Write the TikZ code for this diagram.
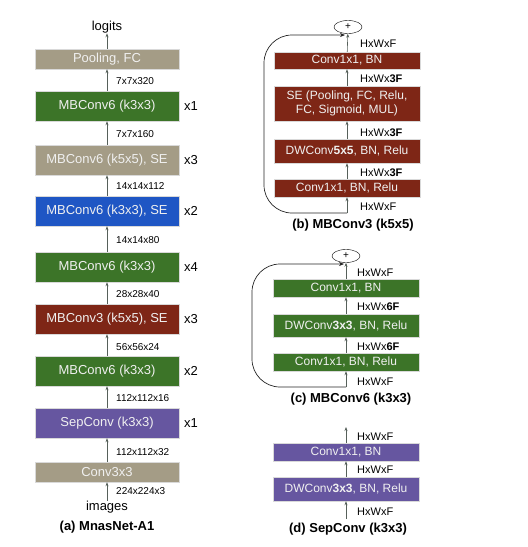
\documentclass[tikz,border=0pt]{standalone}
\usepackage{fontspec}
\setmainfont{Liberation Sans}
\usetikzlibrary{arrows.meta,shapes.geometric}
\definecolor{mbgreen}{HTML}{3C7428}
\definecolor{mbred}{HTML}{7E2616}
\definecolor{mbblue}{HTML}{1F56C4}
\definecolor{mbpurple}{HTML}{6656A0}
\definecolor{mbtan}{HTML}{A49C86}
\definecolor{flowgray}{HTML}{56605A}
\begin{document}
\begin{tikzpicture}[x=1pt,y=1pt,
    box/.style={draw=black!15,inner sep=0pt,minimum width=144pt,text=white!94!black,font=\fontsize{13}{15}\selectfont},
    sbox/.style={box,minimum width=146pt,font=\fontsize{12}{14}\selectfont,align=center},
    lab/.style={anchor=west,inner sep=0pt,font=\fontsize{10}{12}\selectfont},
    hw/.style={anchor=west,inner sep=0pt,font=\fontsize{11}{13}\selectfont},
    rep/.style={anchor=west,inner sep=0pt,font=\fontsize{13}{15}\selectfont},
    txt/.style={inner sep=0pt,font=\fontsize{13}{15}\selectfont},
    caption/.style={inner sep=0pt,font=\fontsize{13}{15}\selectfont\bfseries},
    plus/.style={ellipse,draw,inner sep=0pt,minimum width=28pt,minimum height=13pt,font=\fontsize{10}{10}\selectfont},
    flow/.style={flowgray,line width=0.6pt,-{Stealth[length=4pt,width=3pt]}},
    skip/.style={black!85,line width=0.7pt,rounded corners=28pt,-{Stealth[length=5pt,width=4pt]}}]
    \useasboundingbox (0,0) rectangle (528,-547);

    % (a) MnasNet-A1
    \node[txt] (logits) at (107,-27) {logits};
    \node[box,fill=mbtan,minimum height=20pt] (pool) at (107,-59) {Pooling, FC};
    \node[box,fill=mbgreen,minimum height=30pt] (m7) at (107,-106) {MBConv6 (k3x3)};
    \node[box,fill=mbtan,minimum height=30pt] (m6) at (107,-160) {MBConv6 (k5x5), SE};
    \node[box,fill=mbblue,minimum height=30pt] (m5) at (107,-211) {MBConv6 (k3x3), SE};
    \node[box,fill=mbgreen,minimum height=30pt] (m4) at (107,-267) {MBConv6 (k3x3)};
    \node[box,fill=mbred,minimum height=30pt] (m3) at (107,-319) {MBConv3 (k5x5), SE};
    \node[box,fill=mbgreen,minimum height=30pt] (m2) at (107,-371) {MBConv6 (k3x3)};
    \node[box,fill=mbpurple,minimum height=30pt] (sep) at (107,-423) {SepConv (k3x3)};
    \node[box,fill=mbtan,minimum height=20pt] (stem) at (107,-472) {Conv3x3};
    \node[txt] (images) at (107,-507) {images};
    \node[caption] (capa) at (107,-527) {(a) MnasNet-A1};

    \node[rep] (r7) at (184,-106) {x1};
    \node[rep] (r6) at (184,-160) {x3};
    \node[rep] (r5) at (184,-211) {x2};
    \node[rep] (r4) at (184,-267) {x4};
    \node[rep] (r3) at (184,-319) {x3};
    \node[rep] (r2) at (184,-371) {x2};
    \node[rep] (r1) at (184,-423) {x1};

    \node[lab] at (116,-81) {7x7x320};
    \node[lab] at (116,-134) {7x7x160};
    \node[lab] at (116,-186) {14x14x112};
    \node[lab] at (116,-240) {14x14x80};
    \node[lab] at (116,-294) {28x28x40};
    \node[lab] at (116,-347) {56x56x24};
    \node[lab] at (116,-398) {112x112x16};
    \node[lab] at (116,-452) {112x112x32};
    \node[lab] at (116,-491) {224x224x3};

    \draw[flow] (images) -- (stem);
    \draw[flow] (stem) -- (sep);
    \draw[flow] (sep) -- (m2);
    \draw[flow] (m2) -- (m3);
    \draw[flow] (m3) -- (m4);
    \draw[flow] (m4) -- (m5);
    \draw[flow] (m5) -- (m6);
    \draw[flow] (m6) -- (m7);
    \draw[flow] (m7) -- (pool);
    \draw[flow] (pool) -- (logits);

    % (b) MBConv3 (k5x5)
    \node[plus] (plusb) at (348,-27) {+};
    \node[sbox,fill=mbred,minimum height=17pt] (b4) at (347,-60.5) {Conv1x1, BN};
    \node[sbox,fill=mbred,minimum height=35pt] (b3) at (347,-103.5) {SE (Pooling, FC, Relu,\\FC, Sigmoid, MUL)};
    \node[sbox,fill=mbred,minimum height=24pt] (b2) at (347,-151) {DWConv\textbf{5x5}, BN, Relu};
    \node[sbox,fill=mbred,minimum height=18pt] (b1) at (347,-188) {Conv1x1, BN, Relu};
    \coordinate (bin) at (347,-213);
    \coordinate (bjoin) at (345,-35);
    \node[caption] (capb) at (353,-225) {(b) MBConv3 (k5x5)};

    \node[hw] at (360,-44) {HxWxF};
    \node[hw] at (360,-79) {HxWx\textbf{3F}};
    \node[hw] at (360,-133) {HxWx\textbf{3F}};
    \node[hw] at (360,-173) {HxWx\textbf{3F}};
    \node[hw] at (360,-207) {HxWxF};

    \draw[flow] (bin) -- (b1);
    \draw[flow] (b1) -- (b2);
    \draw[flow] (b2) -- (b3);
    \draw[flow] (b3) -- (b4);
    \draw[flow] (b4) -- (plusb);
    \draw[skip] (bin) -- (264,-213) -- (264,-35) -- (bjoin);

    % (c) MBConv6 (k3x3)
    \node[plus] (plusc) at (346,-256) {+};
    \node[sbox,fill=mbgreen,minimum height=18pt] (c3) at (346,-288) {Conv1x1, BN};
    \node[sbox,fill=mbgreen,minimum height=23pt] (c2) at (346,-325.5) {DWConv\textbf{3x3}, BN, Relu};
    \node[sbox,fill=mbgreen,minimum height=18pt] (c1) at (346,-362) {Conv1x1, BN, Relu};
    \coordinate (cin) at (346,-387);
    \coordinate (cjoin) at (344,-264);
    \node[caption] (capc) at (351,-399) {(c) MBConv6 (k3x3)};

    \node[hw] at (357,-273) {HxWxF};
    \node[hw] at (357,-307) {HxWx\textbf{6F}};
    \node[hw] at (357,-347) {HxWx\textbf{6F}};
    \node[hw] at (357,-382) {HxWxF};

    \draw[flow] (cin) -- (c1);
    \draw[flow] (c1) -- (c2);
    \draw[flow] (c2) -- (c3);
    \draw[flow] (c3) -- (plusc);
    \draw[skip] (cin) -- (252,-387) -- (252,-264) -- (cjoin);

    % (d) SepConv (k3x3)
    \coordinate (dout) at (346,-427);
    \node[sbox,fill=mbpurple,minimum height=18pt] (d2) at (346,-452) {Conv1x1, BN};
    \node[sbox,fill=mbpurple,minimum height=24pt] (d1) at (346,-489) {DWConv\textbf{3x3}, BN, Relu};
    \coordinate (din) at (346,-519);
    \node[caption] (capd) at (348,-529) {(d) SepConv (k3x3)};

    \node[hw] at (357,-437) {HxWxF};
    \node[hw] at (357,-470) {HxWxF};
    \node[hw] at (357,-512) {HxWxF};

    \draw[flow] (din) -- (d1);
    \draw[flow] (d1) -- (d2);
    \draw[flow] (d2) -- (dout);
\end{tikzpicture}
\end{document}
